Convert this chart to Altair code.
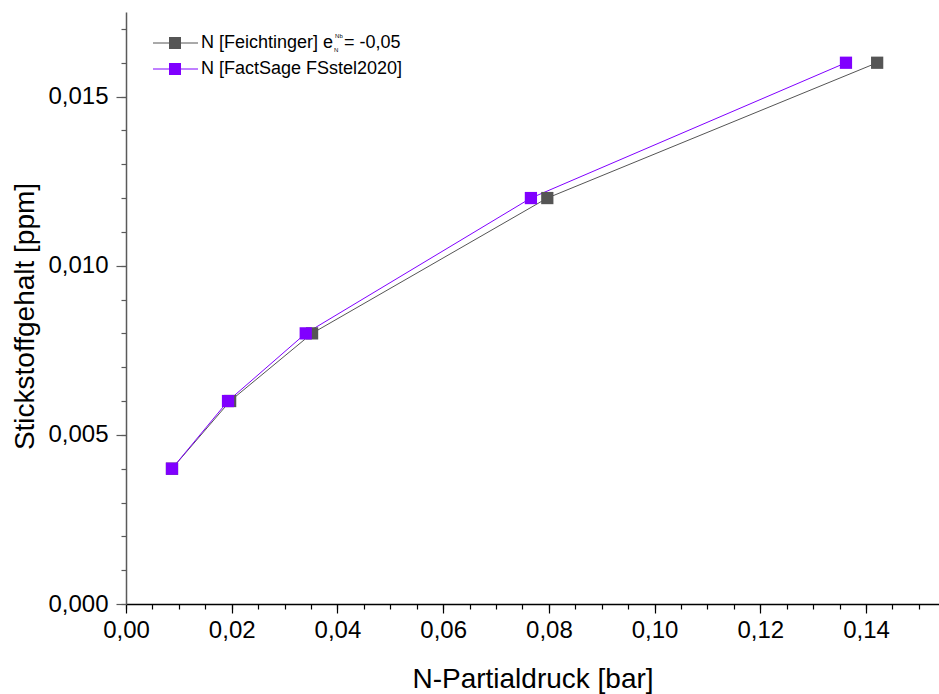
import altair as alt
import pandas as pd

# data
y_vals = [0.004, 0.006, 0.008, 0.012, 0.016]
x_feicht = [0.0087, 0.0197, 0.0352, 0.0797, 0.1421]
x_fact = [0.0087, 0.0193, 0.0340, 0.0766, 0.1362]
series = ["Feichtinger", "FactSage"]
colors = ["#555555", "#8000FF"]

x_major = [0.0, 0.02, 0.04, 0.06, 0.08, 0.10, 0.12, 0.14]
x_minor = [i * 0.005 for i in range(0, 31)]
y_major = [0.0, 0.005, 0.010, 0.015]
y_minor = [i * 0.001 for i in range(0, 18)]

rows = []
for s, xs in zip(series, [x_feicht, x_fact]):
    for i, (xv, yv) in enumerate(zip(xs, y_vals)):
        rows.append({"series": s, "x": xv, "y": yv, "i": i})
df = pd.DataFrame(rows)

FONT = "Liberation Sans"
XDOM = [0, 0.1538]
YDOM = [0, 0.0175]
YCOL = "#5a5a5a"

xscale = alt.Scale(domain=XDOM, nice=False, zero=False)
yscale = alt.Scale(domain=YDOM, nice=False, zero=False)
cscale = alt.Scale(domain=series, range=colors)

x_axis = alt.Axis(values=x_major, title="N-Partialdruck [bar]", orient="bottom",
                  labelExpr="replace(format(datum.value, '.2f'), '.', ',')",
                  tickSize=9, labelPadding=5, labelFlush=False, grid=False,
                  domainColor="black", tickColor="black",
                  titleY=83, titleBaseline="alphabetic")
y_axis = alt.Axis(values=y_major, title="Stickstoffgehalt [ppm]", orient="left",
                  labelExpr="replace(format(datum.value, '.3f'), '.', ',')",
                  tickSize=10, labelPadding=8, labelFlush=False, grid=False,
                  domainColor=YCOL, tickColor=YCOL,
                  titleX=-93, titleY=304, titleBaseline="alphabetic")

base = alt.Chart(df)

lines = base.mark_line(strokeWidth=1).encode(
    x=alt.X("x:Q", scale=xscale, axis=x_axis),
    y=alt.Y("y:Q", scale=yscale, axis=y_axis),
    color=alt.Color("series:N", scale=cscale, legend=None),
    detail="series:N",
    order="i:Q",
)

points = base.mark_square(size=150, opacity=1).encode(
    x=alt.X("x:Q", scale=xscale, axis=None),
    y=alt.Y("y:Q", scale=yscale, axis=None),
    color=alt.Color("series:N", scale=cscale, legend=None),
    order=alt.Order("series:N", sort="descending"),
)

minor = base.mark_point(opacity=0).encode(
    x=alt.X("x:Q", scale=xscale, axis=alt.Axis(values=x_minor, labels=False, title=None, orient="bottom",
                                                 tickSize=5, domain=False, grid=False, tickColor="black")),
    y=alt.Y("y:Q", scale=yscale, axis=alt.Axis(values=y_minor, labels=False, title=None, orient="left",
                                                 tickSize=5, domain=False, grid=False, tickColor=YCOL)),
)

one = alt.Data(values=[{}])
leg_layers = []
for k, (col, ypos) in enumerate(zip(colors, [31, 57])):
    leg_layers.append(alt.Chart(one).mark_rule(color=col, strokeWidth=1).encode(
        x=alt.value(27), x2=alt.value(72), y=alt.value(ypos)))
    leg_layers.append(alt.Chart(one).mark_square(color=col, size=144, opacity=1).encode(
        x=alt.value(49), y=alt.value(ypos)))

FS = 18
X0 = 75
EW = 7.336 * FS
txt = dict(font=FONT, fontSize=FS, align="left", baseline="middle", color="black")
leg_layers.append(alt.Chart(one).mark_text(text="N [Feichtinger] e", **txt).encode(
    x=alt.value(X0), y=alt.value(31)))
leg_layers.append(alt.Chart(one).mark_text(text="N", font=FONT, fontSize=6, align="left",
                                           baseline="middle", color="black").encode(
    x=alt.value(X0 + EW + 1), y=alt.value(38)))
leg_layers.append(alt.Chart(one).mark_text(text="Nb", font=FONT, fontSize=6, align="left",
                                           baseline="middle", color="black").encode(
    x=alt.value(X0 + EW + 2), y=alt.value(24)))
leg_layers.append(alt.Chart(one).mark_text(text="= -0,05", **txt).encode(
    x=alt.value(X0 + EW + 11), y=alt.value(31)))
leg_layers.append(alt.Chart(one).mark_text(text="N [FactSage FSstel2020]", **txt).encode(
    x=alt.value(X0), y=alt.value(57)))

chart = alt.layer(lines, minor, points, *leg_layers).resolve_axis(
    x="independent", y="independent"
).properties(
    width=813, height=592,
    padding={"left": 126, "top": 12, "right": 0, "bottom": 90},
    autosize=alt.AutoSizeParams(type="none"),
    background="white",
).configure_view(stroke=None).configure_axis(
    domainWidth=1.5, tickWidth=1.2,
    labelFont=FONT, labelFontSize=24, labelColor="black",
    titleFont=FONT, titleFontSize=28, titleColor="black", titleFontWeight="normal",
)

chart.save("out.html", embed_options={"renderer": "svg", "actions": False})
